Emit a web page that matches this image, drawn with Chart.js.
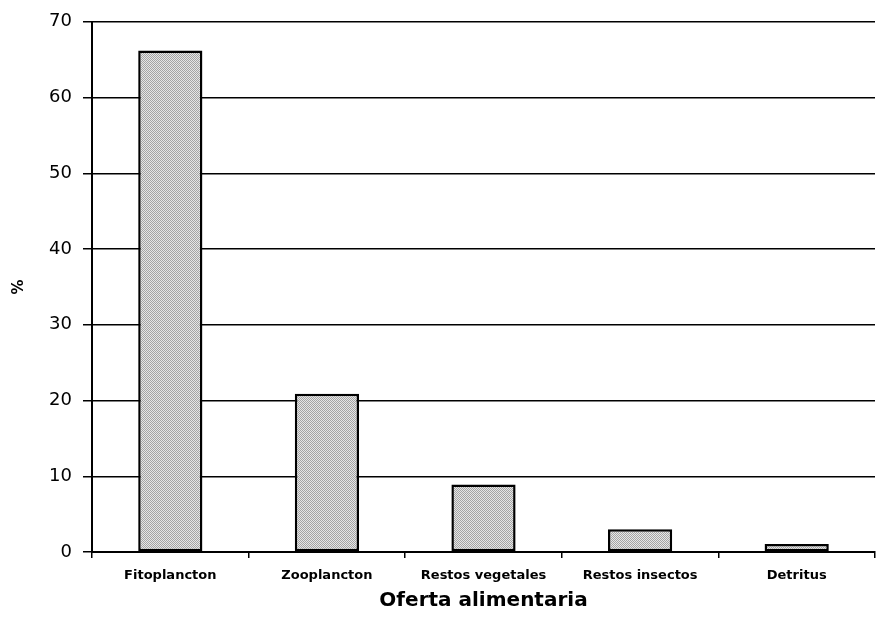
<!DOCTYPE html>
<html>
<head>
<meta charset="utf-8">
<script src="https://cdn.jsdelivr.net/npm/chart.js@4"></script>
<style>
  html, body { margin: 0; padding: 0; background: #fff; }
  #wrap { width: 889px; height: 621px; }
</style>
</head>
<body>
<div id="wrap"><canvas id="c" width="889" height="621"></canvas></div>
<script>
// Food supply categories and their percentage share
const categories = ["Fitoplancton", "Zooplancton", "Restos vegetales", "Restos insectos", "Detritus"];
const percentages = [66.2, 20.9, 8.9, 3.0, 1.05];
const yTicks = [0, 10, 20, 30, 40, 50, 60, 70];

// Dotted grey fill for the bars
function dotPattern() {
  const p = document.createElement("canvas");
  p.width = 2; p.height = 2;
  const g = p.getContext("2d");
  g.fillStyle = "#e6e6e6"; g.fillRect(0, 0, 2, 2);
  g.fillStyle = "#a4a4a4"; g.fillRect(0, 0, 1, 1); g.fillRect(1, 1, 1, 1);
  return g.createPattern(p, "repeat");
}

const ctx = document.getElementById("c").getContext("2d");
new Chart(ctx, {
  type: "bar",
  data: {
    labels: categories,
    datasets: [{
      data: percentages,
      backgroundColor: dotPattern(),
      borderColor: "#000",
      borderWidth: 2.5,
      borderSkipped: false,
      categoryPercentage: 1,
      barPercentage: 0.41
    }]
  },
  options: {
    responsive: false,
    animation: false,
    layout: { padding: { top: 19, right: 14, left: 10, bottom: 8 } },
    plugins: { legend: { display: false }, tooltip: { enabled: false } },
    scales: {
      x: {
        grid: { offset: true, drawOnChartArea: false, color: "#000", tickLength: 6, lineWidth: 1.5 },
        border: { color: "#000", width: 2 },
        ticks: { color: "#000", font: { family: "DejaVu Sans", size: 13, weight: "bold" }, padding: 10, maxRotation: 0 },
        title: { display: true, text: "Oferta alimentaria", color: "#000",
                 font: { family: "DejaVu Sans", size: 20, weight: "bold" }, padding: { top: 8, bottom: 0 } },
        afterFit: s => { s.height = 61; }
      },
      y: {
        min: 0, max: 70,
        afterBuildTicks: s => { s.ticks = yTicks.map(v => ({ value: v })); },
        grid: { color: "#000", lineWidth: 1.5, tickLength: 9 },
        border: { color: "#000", width: 2 },
        ticks: { color: "#000", font: { family: "DejaVu Sans", size: 18 }, padding: 11 },
        title: { display: true, text: "%", color: "#000",
                 font: { family: "DejaVu Sans", size: 15, weight: "bold" }, padding: 0 },
        afterFit: s => { s.width = 82; }
      }
    }
  }
});
</script>
</body>
</html>
